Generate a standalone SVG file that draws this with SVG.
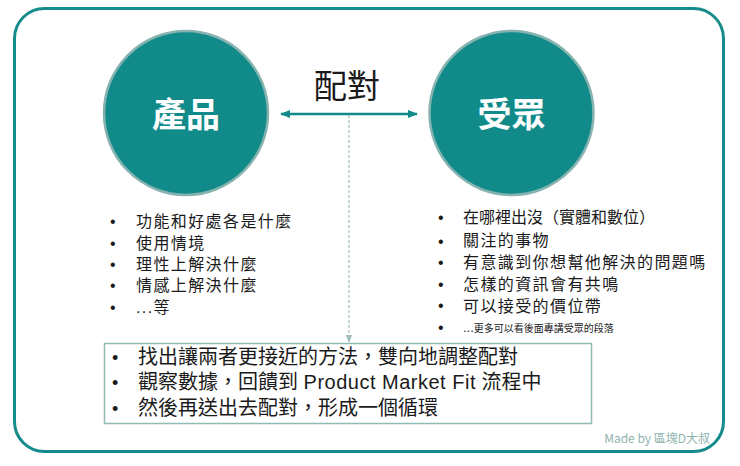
<svg xmlns="http://www.w3.org/2000/svg" width="740" height="466" viewBox="0 0 740 466">
<defs>
<style>
.cjk{font-family:"Noto Sans CJK TC","Noto Sans",sans-serif;}
.txt{font-family:"Liberation Sans","Noto Sans CJK TC",sans-serif;}
.list{font-size:16px;fill:#1a1a1a;letter-spacing:1.4px;}
.bul{font-family:"Liberation Sans",sans-serif;fill:#1a1a1a;}
.circ{fill:#118b8a;stroke:#86b3b0;stroke-width:2.5;}
.ctext{font-size:34px;font-weight:bold;fill:#ffffff;text-anchor:middle;}
</style>
<marker id="ah" viewBox="0 0 10 10" refX="9" refY="5" markerWidth="10" markerHeight="10" markerUnits="userSpaceOnUse" orient="auto-start-reverse">
<path d="M0,1 L10,5 L0,9 Z" fill="#138a8a"/>
</marker>
<marker id="ahd" viewBox="0 0 10 10" refX="9" refY="5" markerWidth="8" markerHeight="8" markerUnits="userSpaceOnUse" orient="auto">
<path d="M0,1 L10,5 L0,9 Z" fill="#9fbdbb"/>
</marker>
</defs>
<rect x="0" y="0" width="740" height="466" fill="#ffffff"/>
<rect id="frame" x="14.5" y="8.5" width="709" height="443" rx="30" ry="30" fill="none" stroke="#168b8b" stroke-width="3"/>

<g id="connectors">
<line x1="281" y1="114" x2="417" y2="114" stroke="#138a8a" stroke-width="2.5" marker-start="url(#ah)" marker-end="url(#ah)"/>
<line x1="349" y1="115" x2="349" y2="342" stroke="#9fbdbb" stroke-width="1.2" stroke-dasharray="3,2" marker-end="url(#ahd)"/>
<text class="cjk" x="347" y="98" font-size="33" fill="#1a1a1a" text-anchor="middle">配對</text>
</g>

<g id="product">
<circle class="circ" cx="186" cy="113" r="82"/>
<text class="cjk ctext" x="186" y="127">產品</text>
</g>

<g id="audience">
<circle class="circ" cx="511.5" cy="113" r="82"/>
<text class="cjk ctext" x="511.5" y="127">受眾</text>
</g>

<g id="product-list">
<g class="bul" font-size="16">
<text x="110" y="227">•</text>
<text x="110" y="249">•</text>
<text x="110" y="270">•</text>
<text x="110" y="291">•</text>
<text x="110" y="313">•</text>
</g>
<g class="txt list">
<text x="136" y="227">功能和好處各是什麼</text>
<text x="136" y="249">使用情境</text>
<text x="136" y="270">理性上解決什麼</text>
<text x="136" y="291">情感上解決什麼</text>
<text x="136" y="313">...等</text>
</g>
</g>

<g id="audience-list">
<g class="bul" font-size="16">
<text x="438" y="223">•</text>
<text x="438" y="247">•</text>
<text x="438" y="268">•</text>
<text x="438" y="290">•</text>
<text x="438" y="311">•</text>
<text x="438" y="333">•</text>
</g>
<g class="txt list">
<text x="463" y="223" letter-spacing="0">在哪裡出沒（實體和數位）</text>
<text x="463" y="246">關注的事物</text>
<text x="463" y="268">有意識到你想幫他解決的問題嗎</text>
<text x="463" y="290">怎樣的資訊會有共鳴</text>
<text x="463" y="311.5">可以接受的價位帶</text>
<text x="463" y="332" font-size="10" letter-spacing="0"><tspan font-size="13">...</tspan>更多可以看後面專講受眾的段落</text>
</g>
</g>

<g id="summary">
<rect x="104.5" y="343.5" width="487" height="80" fill="#ffffff" stroke="#8fbcb6" stroke-width="1.5"/>
<g class="bul" font-size="18">
<text x="112" y="363.5">•</text>
<text x="112" y="389">•</text>
<text x="112" y="414.5">•</text>
</g>
<g class="txt" font-size="20" fill="#1a1a1a">
<text x="138" y="363.5">找出讓兩者更接近的方法，雙向地調整配對</text>
<text x="138" y="389">觀察數據，回饋到 <tspan letter-spacing="0.5">Product Market Fit</tspan> 流程中</text>
<text x="138" y="414.5">然後再送出去配對，形成一個循環</text>
</g>
</g>

<text id="credit" class="cjk" x="710" y="443" font-size="12" fill="#8fb3b0" text-anchor="end">Made by 區塊D大叔</text>
</svg>
